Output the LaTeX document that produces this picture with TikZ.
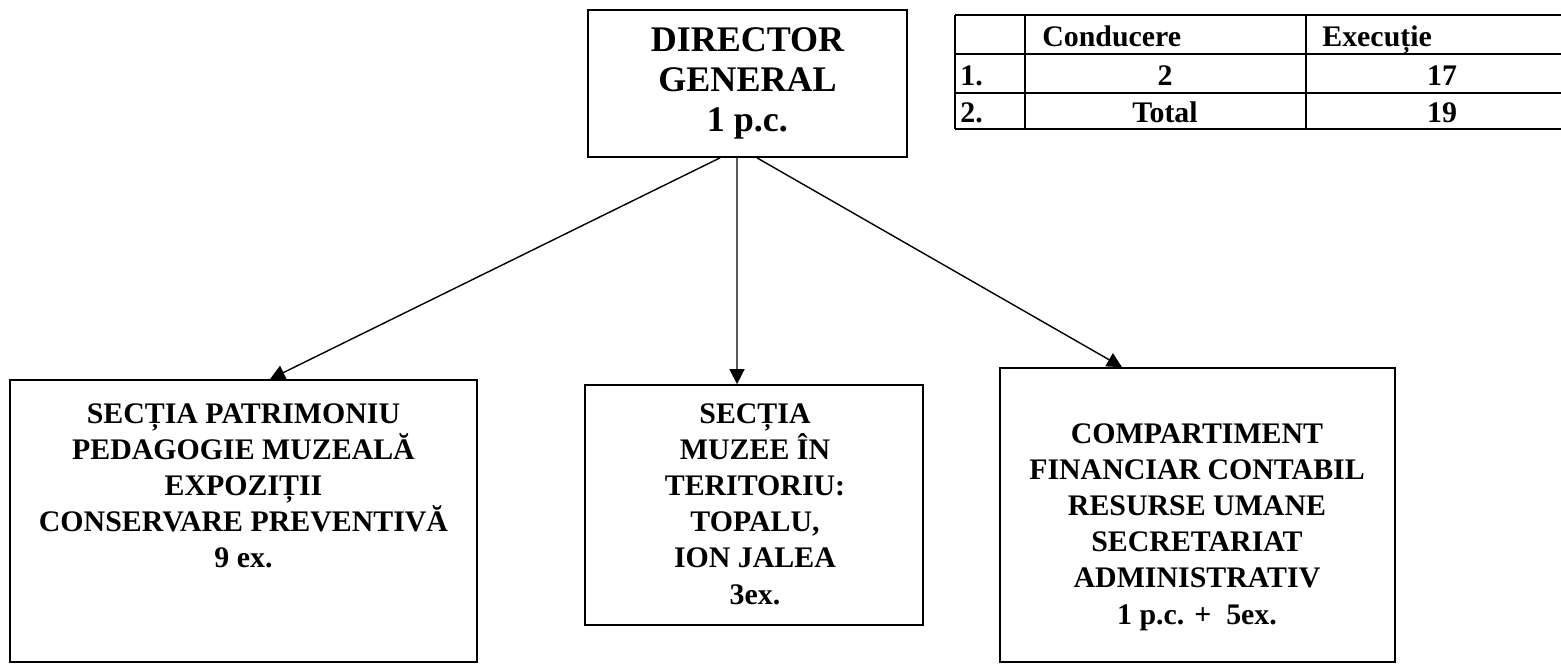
\documentclass[tikz,border=0pt]{standalone}
\usepackage{fontspec}
\setmainfont{Liberation Serif}
\usetikzlibrary{positioning, arrows.meta}

\begin{document}
\begin{tikzpicture}[>={Triangle[length=8.5pt,width=8.5pt]},
    x=0.02cm, y=-0.02cm, align=center]

    \tikzset{
      box/.style = {shape=rectangle, draw, line width=1pt, inner sep=0pt},
      boxtext/.style = {anchor=north, inner sep=0pt,
        font=\fontsize{17}{20.6}\selectfont\bfseries},
      cell/.style = {inner sep=0pt, font=\fontsize{17}{20}\selectfont\bfseries},
      grid/.style = {line width=0.7pt},
    }

    \useasboundingbox (0,0) rectangle (1561,664);

    % conducere
    \node[box, minimum width=6.38cm, minimum height=2.94cm,
      font=\fontsize{20.5}{22.7}\selectfont\bfseries] (dir) at (747.5,83.5)
      {DIRECTOR\\GENERAL\\1 p.c.};

    % sectii si compartiment
    \node[box, minimum width=9.34cm, minimum height=5.64cm] (pat) at (243.5,521) {};
    \node[box, minimum width=6.76cm, minimum height=4.8cm ] (muz) at (754,505) {};
    \node[box, minimum width=7.9cm,  minimum height=5.88cm] (fin) at (1197.5,515) {};

    \node[boxtext] (pattext) at (243.5,403)
      {SECȚIA PATRIMONIU\\PEDAGOGIE MUZEALĂ\\EXPOZIȚII\\CONSERVARE PREVENTIVĂ\\9 ex.};
    \node[boxtext] (muztext) at (755,403)
      {SECȚIA\\MUZEE ÎN\\TERITORIU:\\TOPALU,\\ION JALEA\\3ex.};
    \node[boxtext] (fintext) at (1197,423)
      {COMPARTIMENT\\FINANCIAR CONTABIL\\RESURSE UMANE\\SECRETARIAT\\ADMINISTRATIV\\1 p.c. +\ \ 5ex.};

    \path[->, line width=0.8pt]
      ([xshift=-0.55cm]dir.south) edge[] ([xshift=0.53cm]pat.north)
      ([xshift=-0.21cm]dir.south) edge[] ([xshift=-0.34cm]muz.north)
      ([xshift=0.19cm]dir.south)  edge[] ([xshift=-1.51cm]fin.north);

    % tabel posturi
    \foreach \y in {15,54,93,129}
      \draw[grid] (955,\y) -- (1561,\y);
    \foreach \x in {955,1025,1306}
      \draw[grid] (\x,15) -- (\x,129);

    \node[cell, anchor=base west] (hcond) at (1042,46) {Conducere};
    \node[cell, anchor=base west] (hexec) at (1322,46) {Execuție};
    \node[cell, anchor=base west] (nr1)   at (960,85)  {1.};
    \node[cell, anchor=base west] (nr2)   at (960,122) {2.};
    \node[cell, anchor=base] (cond1) at (1165,85)  {2};
    \node[cell, anchor=base] (cond2) at (1165,122) {Total};
    \node[cell, anchor=base] (exec1) at (1442,85)  {17};
    \node[cell, anchor=base] (exec2) at (1442,122) {19};

  \end{tikzpicture}
\end{document}
